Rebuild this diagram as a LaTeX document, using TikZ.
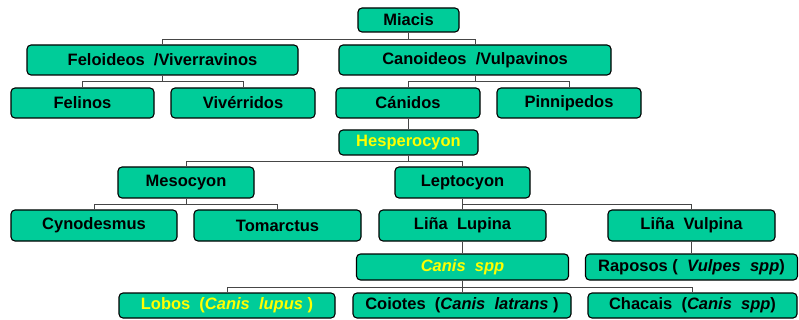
\documentclass[tikz,border=0pt]{standalone}
\usepackage{fontspec}
\setmainfont{Liberation Sans}
\definecolor{boxfill}{RGB}{0,204,153}
\definecolor{ylw}{RGB}{255,255,0}
\definecolor{linegray}{RGB}{70,70,70}
\tikzset{
  bx/.style={draw=black, line width=1.1pt, fill=boxfill, rounded corners=4pt,
    inner sep=0pt, font=\fontsize{16.5}{18}\selectfont\bfseries, text=black},
  ytext/.style={text=ylw},
  conn/.style={draw=linegray, line width=0.9pt}
}
\begin{document}
\begin{tikzpicture}[x=1pt,y=-1pt]
\useasboundingbox (0,0) rectangle (799,320);
\node[bx, minimum width=101pt, minimum height=24pt] (miacis) at (408.5,20) {Miacis};
\node[bx, minimum width=271pt, minimum height=30pt] (felo) at (162.5,60) {Feloideos~~/Viverravinos};
\node[bx, minimum width=272pt, minimum height=30pt] (cano) at (475,60) {Canoideos~~/Vulpavinos};
\node[bx, minimum width=143pt, minimum height=30pt] (felinos) at (82.5,103) {Felinos};
\node[bx, minimum width=144pt, minimum height=30pt] (viv) at (243,103) {Vivérridos};
\node[bx, minimum width=144pt, minimum height=30pt] (canidos) at (408,103) {Cánidos};
\node[bx, minimum width=144pt, minimum height=30pt] (pinn) at (569,103) {Pinnipedos};
\node[bx, ytext, minimum width=139pt, minimum height=25pt] (hesp) at (408.5,142.5) {Hesperocyon};
\node[bx, minimum width=136pt, minimum height=31pt] (meso) at (186,182.5) {Mesocyon};
\node[bx, minimum width=135pt, minimum height=31pt] (lepto) at (462.5,182.5) {Leptocyon};
\node[bx, minimum width=166pt, minimum height=31pt] (cyno) at (94,225.5) {Cynodesmus};
\node[bx, minimum width=167pt, minimum height=31pt] (toma) at (277.5,225.5) {Tomarctus};
\node[bx, minimum width=167pt, minimum height=31pt] (lupina) at (462.5,225.5) {Liña~~Lupina};
\node[bx, minimum width=167pt, minimum height=31pt] (vulpina) at (691.5,225.5) {Liña~~Vulpina};
\node[bx, ytext, minimum width=212pt, minimum height=26pt] (canis) at (462.5,267) {\itshape Canis~~spp};
\node[bx, minimum width=212pt, minimum height=26pt] (raposos) at (691.5,267) {Raposos (~~\textit{Vulpes~~spp})};
\node[bx, ytext, minimum width=216pt, minimum height=25pt] (lobos) at (227,305.5) {Lobos~~(\textit{Canis~~lupus} )};
\node[bx, minimum width=218pt, minimum height=25pt] (coiotes) at (462,305.5) {Coiotes~~(\textit{Canis~~latrans} )};
\node[bx, minimum width=209pt, minimum height=25pt] (chacais) at (692.5,305.5) {Chacais~~(\textit{Canis~~spp})};
% connectors
\draw[conn] (miacis.south) -- ++(0,7) -| (felo.north);
\draw[conn] (miacis.south) -- ++(0,7) -| (cano.north);
\draw[conn] (felo.south) -- ++(0,6) -| (felinos.north);
\draw[conn] (felo.south) -- ++(0,6) -| (viv.north);
\draw[conn] (cano.south) -- ++(0,6) -| (canidos.north);
\draw[conn] (cano.south) -- ++(0,6) -| (pinn.north);
\draw[conn] (canidos.south) -- (canidos.south |- hesp.north);
\draw[conn] (hesp.south) -- ++(0,6) -| (meso.north);
\draw[conn] (hesp.south) -- ++(0,6) -| (lepto.north);
\draw[conn] (meso.south) -- ++(0,6) -| (cyno.north);
\draw[conn] (meso.south) -- ++(0,6) -| (toma.north);
\draw[conn] (lepto.south) -- ++(0,6) -| (lupina.north);
\draw[conn] (lepto.south) -- ++(0,6) -| (vulpina.north);
\draw[conn] (lupina.south) -- (lupina.south |- canis.north);
\draw[conn] (vulpina.south) -- (vulpina.south |- raposos.north);
\draw[conn] (canis.south) -- ++(0,7) -| (lobos.north);
\draw[conn] (canis.south) -- ++(0,7) -| (coiotes.north);
\draw[conn] (canis.south) -- ++(0,7) -| (chacais.north);
\end{tikzpicture}
\end{document}
